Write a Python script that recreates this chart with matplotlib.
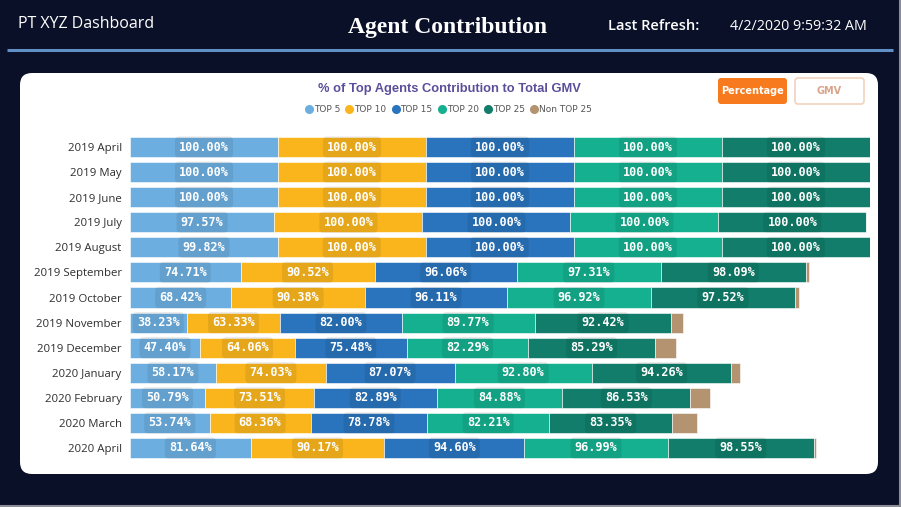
import matplotlib
matplotlib.use("Agg")
import matplotlib.pyplot as plt
import numpy as np
from matplotlib.patches import FancyBboxPatch
from matplotlib.lines import Line2D

months = ["2019 April", "2019 May", "2019 June", "2019 July", "2019 August",
          "2019 September", "2019 October", "2019 November", "2019 December",
          "2020 January", "2020 February", "2020 March", "2020 April"]
top5 = [100, 100, 100, 97.57, 99.82, 74.71, 68.42, 38.23, 47.40, 58.17, 50.79, 53.74, 81.64]
top10 = [100, 100, 100, 100, 100, 90.52, 90.38, 63.33, 64.06, 74.03, 73.51, 68.36, 90.17]
top15 = [100, 100, 100, 100, 100, 96.06, 96.11, 82.00, 75.48, 87.07, 82.89, 78.78, 94.60]
top20 = [100, 100, 100, 100, 100, 97.31, 96.92, 89.77, 82.29, 92.80, 84.88, 82.21, 96.99]
top25 = [100, 100, 100, 100, 100, 98.09, 97.52, 92.42, 85.29, 94.26, 86.53, 83.35, 98.55]
non25 = [0, 0, 0, 0, 0, 1.91, 2.48, 7.58, 14.71, 5.74, 13.47, 16.65, 1.45]

series = [top5, top10, top15, top20, top25, non25]
names = ["TOP 5", "TOP 10", "TOP 15", "TOP 20", "TOP 25", "Non TOP 25"]
colors = ["#6CAEE0", "#FAB51D", "#2A74BD", "#14B08F", "#117D6A", "#B39370"]

W, H = 901, 507
fig = plt.figure(figsize=(W / 100, H / 100), dpi=100)
fig.patch.set_facecolor("#0B1029")

# background layer in pixel coords
bg = fig.add_axes([0, 0, 1, 1])
bg.set_xlim(0, W)
bg.set_ylim(H, 0)
bg.axis("off")
bg.plot([7, 893], [50, 50], color="#5F8FC4", lw=2.2, solid_capstyle="butt")
r = 12
bg.add_patch(FancyBboxPatch((20 + r, 73 + r), 858 - 2 * r, 401 - 2 * r,
                            boxstyle="round,pad=%d" % r, fc="white", ec="none"))
bg.plot([899.5, 899.5], [0, H], color="#8A8C96", lw=1.5)
bg.plot([0, W], [505.5, 505.5], color="#8A8C96", lw=1.5)

# header
bg.text(18, 24, "PT XYZ Dashboard", color="white", fontsize=11.5,
        family="Open Sans", va="center", ha="left")
bg.text(448, 27, "Agent Contribution", color="white", fontsize=17,
        family="Liberation Serif", weight="bold", va="center", ha="center")
bg.text(608, 26, "Last Refresh:", color="white", fontsize=10.5,
        family="Open Sans", weight="semibold", va="center", ha="left")
bg.text(730, 26, "4/2/2020 9:59:32 AM", color="white", fontsize=10.3,
        family="Open Sans", va="center", ha="left")

# chart title + buttons
bg.text(449, 89, "% of Top Agents Contribution to Total GMV", color="#5B4E9A",
        fontsize=9.3, weight="bold", family="Liberation Sans", va="center", ha="center")
bg.add_patch(FancyBboxPatch((721, 81), 63, 20, boxstyle="round,pad=3",
                            fc="#F77B1E", ec="none"))
bg.text(752.5, 91, "Percentage", color="white", fontsize=7, weight="bold",
        va="center", ha="center")
bg.add_patch(FancyBboxPatch((798, 81), 63, 20, boxstyle="round,pad=3",
                            fc="white", ec="#F2D2BE", lw=1.2))
bg.text(829.5, 91, "GMV", color="#D9A48A", fontsize=7, weight="bold",
        va="center", ha="center")

# chart
ax = fig.add_axes([130 / W, 1 - 460.5 / H, 740 / W, 326 / H])
ax.set_xlim(0, 500)
ax.set_ylim(len(months) - 0.5, -0.5)
y = np.arange(len(months))
left = np.zeros(len(months))
for vals, c, n in zip(series, colors, names):
    vals = np.array(vals, dtype=float)
    ax.barh(y, vals, left=left, height=0.8, color=c, edgecolor="white",
            linewidth=0.4, label=n)
    if n != "Non TOP 25":
        for yi, (l, v) in enumerate(zip(left, vals)):
            ax.text(l + v / 2, yi, "%.2f%%" % v, ha="center", va="center",
                    color="white", fontsize=8.5, family="DejaVu Sans Mono",
                    weight="bold",
                    bbox=dict(boxstyle="round,pad=0.35", fc=(0, 0, 0, 0.08),
                              ec="none"))
    left += vals

ax.set_yticks(y)
ax.set_yticklabels(months, fontsize=8.2, color="#2E2E2E", family="Open Sans")
ax.tick_params(axis="y", length=0, pad=6)
ax.set_xticks([])
for s in ax.spines.values():
    s.set_visible(False)
ax.patch.set_alpha(0)

handles = [Line2D([], [], marker="o", ls="none", color=c, markersize=5.5)
           for c in colors]
fig.legend(handles, names, loc="center", bbox_to_anchor=(448 / W, 1 - 110 / H),
           ncol=6, frameon=False, fontsize=6.5, handletextpad=0.05,
           columnspacing=0.5, handlelength=1.0, labelcolor="#555555")

fig.savefig("out.png", dpi=100, facecolor=fig.get_facecolor())
